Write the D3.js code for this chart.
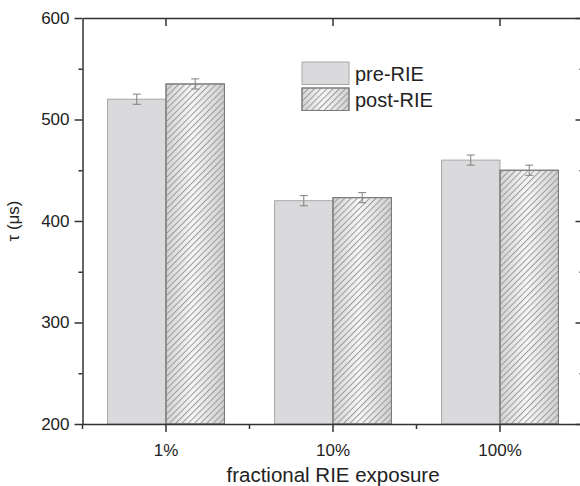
<!DOCTYPE html>
<html>
<head>
<meta charset="utf-8">
<script src="https://cdn.jsdelivr.net/npm/d3@7"></script>
<style>
  body { margin: 0; background: #fff; }
  text { font-family: "Liberation Sans", Arial, sans-serif; fill: #222; }
</style>
</head>
<body>
<script>
// chart data
var categories = ["1%", "10%", "100%"];
var preValues = [520, 420, 460];
var postValues = [535, 423, 450];
var preErrors = [5, 5, 5];
var postErrors = [5, 5, 5];
var seriesNames = ["pre-RIE", "post-RIE"];
var yTicks = [200, 300, 400, 500, 600];
var yMinorTicks = [250, 350, 450, 550];

var svgWidth = 580, svgHeight = 486;
var margin = { top: 18, right: -3.5, bottom: 62, left: 82.5 };
var width = svgWidth - margin.left - margin.right;
var height = svgHeight - margin.top - margin.bottom;

var svg = d3.select("body")
  .append("svg")
  .attr("width", svgWidth)
  .attr("height", svgHeight)
  .style("overflow", "hidden");

var defs = svg.append("defs");

// gradient + hatch for the post-RIE bars
var grad = defs.append("linearGradient")
  .attr("id", "metal")
  .attr("x1", "0%").attr("y1", "0%")
  .attr("x2", "100%").attr("y2", "0%");
grad.append("stop").attr("offset", "0%").attr("stop-color", "#d4d4d4");
grad.append("stop").attr("offset", "45%").attr("stop-color", "#f7f7f7");
grad.append("stop").attr("offset", "100%").attr("stop-color", "#d0d0d0");

var hatch = defs.append("pattern")
  .attr("id", "hatch")
  .attr("patternUnits", "userSpaceOnUse")
  .attr("width", 4.4)
  .attr("height", 4.4)
  .attr("patternTransform", "rotate(45)");
hatch.append("line")
  .attr("x1", 0.5).attr("y1", 0)
  .attr("x2", 0.5).attr("y2", 4.4)
  .attr("stroke", "#9a9a9a")
  .attr("stroke-width", 1);

var g = svg.append("g")
  .attr("transform", "translate(" + margin.left + "," + margin.top + ")");

// scales
var xScale = d3.scaleBand()
  .domain(categories)
  .range([0, width])
  .paddingInner(0)
  .paddingOuter(0);

var yScale = d3.scaleLinear()
  .domain([200, 600])
  .range([height, 0]);

var bw = xScale.bandwidth() * 0.35;

// bars
function drawBars(values, errors, offset, isPost) {
  var grp = g.append("g");
  grp.selectAll("rect.base")
    .data(values)
    .enter()
    .append("rect")
    .attr("x", function(d, i) { return xScale(categories[i]) + xScale.bandwidth() / 2 + offset; })
    .attr("y", function(d) { return yScale(d); })
    .attr("width", bw)
    .attr("height", function(d) { return height - yScale(d); })
    .style("fill", isPost ? "url(#metal)" : "#dadadc")
    .style("stroke", isPost ? "#7a7a7a" : "#a8a8a8")
    .style("stroke-width", 1);

  if (isPost) {
    grp.selectAll("rect.hatch")
      .data(values)
      .enter()
      .append("rect")
      .attr("x", function(d, i) { return xScale(categories[i]) + xScale.bandwidth() / 2 + offset; })
      .attr("y", function(d) { return yScale(d); })
      .attr("width", bw)
      .attr("height", function(d) { return height - yScale(d); })
      .style("fill", "url(#hatch)")
      .style("stroke", "#7a7a7a")
      .style("stroke-width", 1);
  }

  // error bars
  values.forEach(function(d, i) {
    var cx = xScale(categories[i]) + xScale.bandwidth() / 2 + offset + bw / 2;
    var top = yScale(d + errors[i]), bot = yScale(d - errors[i]);
    grp.append("line")
      .attr("x1", cx).attr("x2", cx)
      .attr("y1", top).attr("y2", bot)
      .style("stroke", "#808080").style("stroke-width", 1);
    [top, bot].forEach(function(yy) {
      grp.append("line")
        .attr("x1", cx - 4).attr("x2", cx + 4)
        .attr("y1", yy).attr("y2", yy)
        .style("stroke", "#808080").style("stroke-width", 1);
    });
  });
}

drawBars(preValues, preErrors, -bw, false);
drawBars(postValues, postErrors, 0, true);

// axes
var axisColor = "#333";

function styleAxis(sel) {
  sel.selectAll("path").style("stroke", axisColor).style("stroke-width", 1.5);
  sel.selectAll("line").style("stroke", axisColor).style("stroke-width", 1.5);
  sel.selectAll("text").style("font-size", "17px").style("fill", "#222");
}

// left axis
var yAxis = g.append("g")
  .call(d3.axisLeft(yScale).tickValues(yTicks).tickSize(8).tickSizeOuter(0).tickPadding(5));
styleAxis(yAxis);
g.append("g")
  .call(d3.axisLeft(yScale).tickValues(yMinorTicks).tickSize(4).tickSizeOuter(0).tickFormat(""))
  .call(styleAxis)
  .select("path").remove();

// right axis (ticks inward)
var rightAxis = g.append("g")
  .attr("transform", "translate(" + width + ",0)")
  .call(d3.axisLeft(yScale).tickValues(yTicks).tickSize(8).tickSizeOuter(0).tickFormat(""));
styleAxis(rightAxis);
g.append("g")
  .attr("transform", "translate(" + width + ",0)")
  .call(d3.axisLeft(yScale).tickValues(yMinorTicks).tickSize(4).tickSizeOuter(0).tickFormat(""))
  .call(styleAxis)
  .select("path").remove();

// bottom axis
var xAxis = g.append("g")
  .attr("transform", "translate(0," + height + ")")
  .call(d3.axisBottom(xScale).tickSize(8).tickSizeOuter(0).tickPadding(12));
styleAxis(xAxis);

// minor ticks at category boundaries
var boundaries = categories.map(function(c) { return xScale(c); }).concat([width]);
g.append("g")
  .selectAll("line")
  .data(boundaries)
  .enter()
  .append("line")
  .attr("x1", function(d) { return d; })
  .attr("x2", function(d) { return d; })
  .attr("y1", height)
  .attr("y2", height + 5)
  .style("stroke", axisColor).style("stroke-width", 1.5);

// top axis (ticks inward)
var topAxis = g.append("g")
  .call(d3.axisBottom(xScale).tickSize(8).tickSizeOuter(0).tickFormat(""));
styleAxis(topAxis);

// axis titles
g.append("text")
  .attr("x", xScale("10%") + xScale.bandwidth() / 2)
  .attr("y", height + 58)
  .style("text-anchor", "middle")
  .style("font-size", "20.5px")
  .text("fractional RIE exposure");

svg.append("text")
  .attr("transform", "translate(19," + (yScale(400) + margin.top) + ") rotate(-90)")
  .style("text-anchor", "middle")
  .style("font-size", "17px")
  .text("τ (μs)");

// legend
var legend = svg.append("g")
  .attr("transform", "translate(302,62)");

seriesNames.forEach(function(name, i) {
  var row = legend.append("g").attr("transform", "translate(0," + (i * 26) + ")");
  row.append("rect")
    .attr("width", 47).attr("height", 22.5)
    .style("fill", i === 0 ? "#dadadc" : "url(#metal)")
    .style("stroke", i === 0 ? "#a8a8a8" : "#7a7a7a");
  if (i === 1) {
    row.append("rect")
      .attr("width", 47).attr("height", 22.5)
      .style("fill", "url(#hatch)")
      .style("stroke", "#7a7a7a");
  }
  row.append("text")
    .attr("x", 53)
    .attr("y", 19)
    .style("font-size", "20px")
    .text(name);
});
</script>
</body>
</html>
